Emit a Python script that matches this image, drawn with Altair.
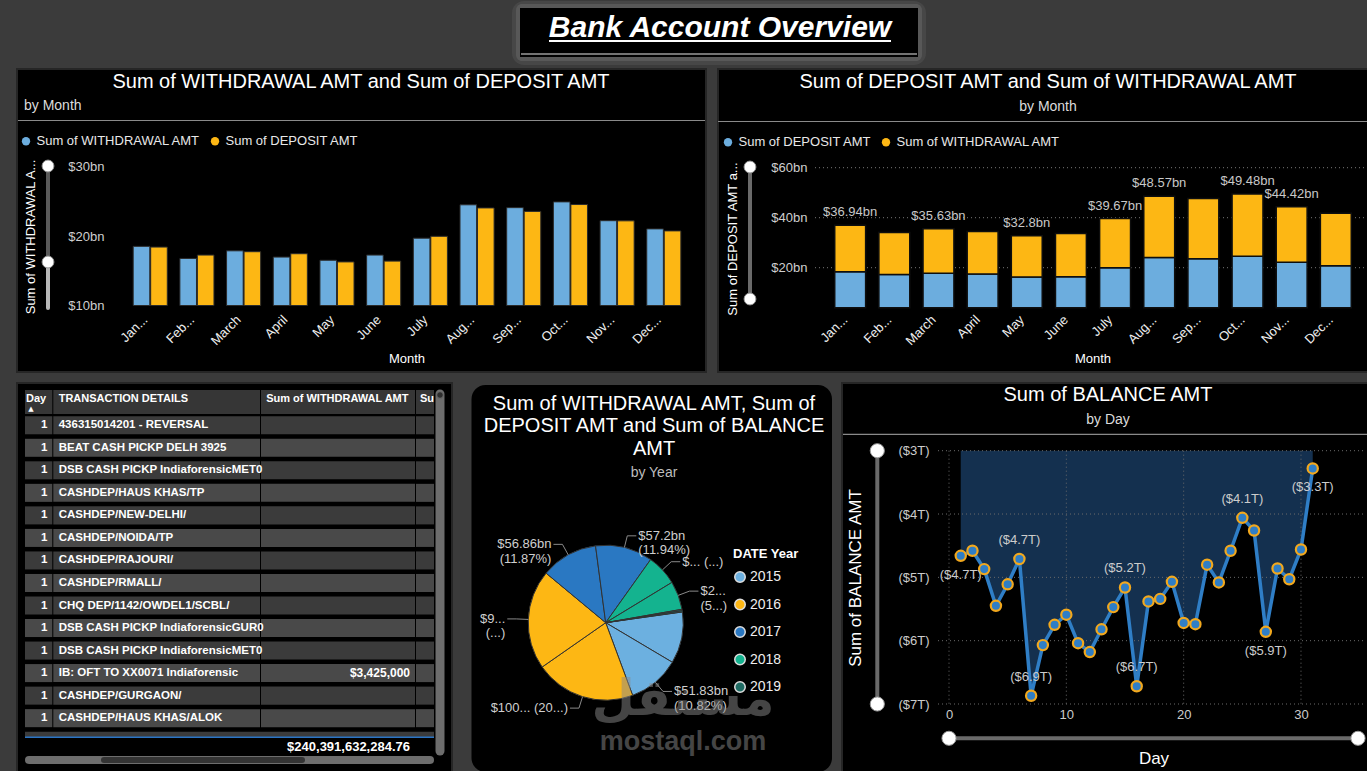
import altair as alt
import pandas as pd

FONT = "Liberation Sans"
BG = "#3b3b3b"
BLUE = "#6cadde"
YELLOW = "#fdb714"

# ---------------- data ----------------
MONTHS = ["January", "February", "March", "April", "May", "June", "July",
          "August", "September", "October", "November", "December"]
WITHDRAWAL_BN = [18.52, 16.78, 17.88, 16.98, 16.52, 17.27, 19.70, 24.51, 24.10, 24.93, 22.22, 21.04]
DEPOSIT_BN = [18.42, 17.27, 17.75, 17.46, 16.28, 16.40, 19.97, 24.06, 23.56, 24.55, 22.20, 20.75]
LABELLED_MONTHS = ["January", "March", "May", "July", "August", "October", "November"]
SERIES_W = "Sum of WITHDRAWAL AMT"
SERIES_D = "Sum of DEPOSIT AMT"

YEARS = ["2015", "2016", "2017", "2018", "2019"]
YEAR_COLORS = ["#6cb0e0", "#fdb714", "#2a78c2", "#14b38f", "#1f6b63"]
PIE_YEAR = ["2015", "2015", "2016", "2016", "2017", "2017", "2018", "2018", "2019", "2019"]
PIE_MEASURE = ["Withdrawal", "Deposit"] * 5
PIE_BN = [51.5, 51.83, 100.4, 99.3, 56.86, 57.2, 30.9, 28.4, 1.4, 1.24]
PIE_LABELS = ["", "$51.83bn\n(10.82%)", "$100... (20...)", "$9...\n(...)",
              "$56.86bn\n(11.87%)", "$57.2bn\n(11.94%)", "$... (...)", "$2...\n(5...)", "", ""]

DAYS = list(range(1, 32))
BALANCE_T = [-4.66, -4.58, -4.87, -5.45, -5.11, -4.71, -6.87, -6.07, -5.75, -5.59,
             -6.04, -6.18, -5.82, -5.47, -5.16, -6.72, -5.38, -5.34, -5.07, -5.72,
             -5.74, -4.80, -5.08, -4.58, -4.06, -4.26, -5.86, -4.86, -5.03, -4.56, -3.28]
ABOVE_DAYS = [6, 7, 15, 16, 25]
BELOW_DAYS = [1, 27, 31]
BAL_TICKS = [-7, -6, -5, -4, -3]
DAY_TICKS = [0, 10, 20, 30]

TABLE_DETAILS = ["436315014201 - REVERSAL", "BEAT CASH PICKP DELH 3925",
                 "DSB CASH PICKP IndiaforensicMET0", "CASHDEP/HAUS KHAS/TP",
                 "CASHDEP/NEW-DELHI/", "CASHDEP/NOIDA/TP", "CASHDEP/RAJOURI/",
                 "CASHDEP/RMALL/", "CHQ DEP/1142/OWDEL1/SCBL/",
                 "DSB CASH PICKP IndiaforensicGUR0", "DSB CASH PICKP IndiaforensicMET0",
                 "IB: OFT TO XX0071 Indiaforensic", "CASHDEP/GURGAON/", "CASHDEP/HAUS KHAS/ALOK"]
TABLE_DAY = [1] * 14
TABLE_WITHDRAWAL = [None] * 11 + [3425000] + [None, None]
TOTAL_WITHDRAWAL = 240391632284.76

TICKS1 = [10, 20, 30]
TICKS2 = [20, 40, 60]

# ---------------- frames ----------------
bars1_df = pd.DataFrame({
    "Month": MONTHS * 2,
    "Series": [SERIES_W] * 12 + [SERIES_D] * 12,
    "Amount": WITHDRAWAL_BN + DEPOSIT_BN,
})
bars2_df = pd.DataFrame({
    "Month": MONTHS * 2,
    "Series": [SERIES_D] * 12 + [SERIES_W] * 12,
    "Amount": DEPOSIT_BN + WITHDRAWAL_BN,
    "Ord": [0] * 12 + [1] * 12,
})
tot_df = pd.DataFrame({"Month": MONTHS,
                       "Total": [round(w + d, 2) for w, d in zip(WITHDRAWAL_BN, DEPOSIT_BN)]})
tot_df = tot_df[tot_df["Month"].isin(LABELLED_MONTHS)].copy()
tot_df["Label"] = ["$" + ("%.2f" % t).rstrip("0").rstrip(".") + "bn" for t in tot_df["Total"]]

pie_df = pd.DataFrame({"Idx": list(range(10)), "Year": PIE_YEAR, "Measure": PIE_MEASURE,
                       "Amount": PIE_BN, "Label": PIE_LABELS})
bal_df = pd.DataFrame({"Day": DAYS, "Balance": BALANCE_T})
table_df = pd.DataFrame({"Row": list(range(14)), "Day": TABLE_DAY,
                         "Details": TABLE_DETAILS, "Withdrawal": TABLE_WITHDRAWAL})
ONE = pd.DataFrame({"k": [0]})


# ---------------- helpers for frame decoration ----------------
def box(x0, x1, y0, y1, fill, **kw):
    return alt.Chart(ONE).mark_rect(fill=fill, **kw).encode(
        x=alt.value(x0), x2=alt.value(x1), y=alt.value(y0), y2=alt.value(y1))


def seg(x0, x1, y0, y1, color, width=1, **kw):
    return alt.Chart(ONE).mark_rule(color=color, strokeWidth=width, **kw).encode(
        x=alt.value(x0), x2=alt.value(x1), y=alt.value(y0), y2=alt.value(y1))


def knob(x, y, size, fill="#ffffff", stroke="#9a9a9a", sw=1):
    return alt.Chart(ONE).mark_point(shape="circle", filled=True, size=size, fill=fill,
                                     stroke=stroke, strokeWidth=sw, opacity=1).encode(
        x=alt.value(x), y=alt.value(y))


def txt(s, x, y, size=13, color="#ffffff", **kw):
    return alt.Chart(ONE).mark_text(text=s, fontSize=size, color=color, **kw).encode(
        x=alt.value(x), y=alt.value(y))


def axis(**kw):
    base = dict(zindex=2, domain=False, ticks=False, grid=False, title=None,
                labelFont=FONT, labelFontSize=13, labelColor="#cfcfcf")
    base.update(kw)
    return alt.Axis(**base)


def legend(**kw):
    base = dict(orient="none", title=None, symbolType="circle", symbolSize=70,
                symbolStrokeWidth=0, labelFontSize=13, labelColor="#e8e8e8",
                labelOffset=4, columnPadding=8, labelLimit=400, padding=0)
    base.update(kw)
    return alt.Legend(**base)


layers = []

# ---------------- page frame ----------------
layers += [
    box(512, 926, 1, 65, "#5e5e5e", cornerRadius=12, opacity=0.35),
    box(516, 922, 4, 61, "#6a6a6a", cornerRadius=6, opacity=0.5),
    box(520, 918, 8, 57, "#000000"),
    seg(521, 917, 54, 54, "#9a9a9a", 1.5),
    txt("Bank Account Overview", 720, 37, size=30, fontWeight="bold", fontStyle="italic",
        baseline="alphabetic"),
    seg(549, 891, 41, 41, "#ffffff", 2),
    box(17, 706, 69, 372, "#000000", stroke="#262626", strokeWidth=2),
    box(718, 1369, 69, 372, "#000000", stroke="#262626", strokeWidth=2),
    box(17, 452, 383, 773, "#000000", stroke="#262626", strokeWidth=2),
    box(471.5, 832, 385, 772, "#000000", cornerRadius=14),
    box(842, 1369, 383, 773, "#000000", stroke="#262626", strokeWidth=2),
]

# ---------------- panel 1: grouped bars ----------------
month_label = "length(datum.label) > 5 ? substring(datum.label, 0, 3) + '...' : datum.label"
x1_scale = alt.Scale(domain=MONTHS, range=[126.9, 687.15], paddingInner=0.27, paddingOuter=0.135)
y1_scale = alt.Scale(domain=[10, 30], range=[305.5, 166.7], nice=False, zero=False)

bars1 = alt.Chart(bars1_df).mark_bar(stroke="#2a2a2a", strokeWidth=1).encode(
    x=alt.X("Month:N", sort=MONTHS, scale=x1_scale,
            axis=axis(orient="bottom", offset=308 - 771, labelAngle=-45, labelExpr=month_label,
                      labelFontSize=13, labelColor="#eeeeee", labelPadding=5, labelOffset=-9)),
    xOffset=alt.XOffset("Series:N", sort=[SERIES_W, SERIES_D], scale=alt.Scale(paddingInner=0.05)),
    y=alt.Y("Amount:Q", scale=y1_scale,
            axis=axis(orient="left", offset=-106, values=TICKS1, labelPadding=2,
                      labelExpr="'$' + datum.value + 'bn'")),
    y2=alt.datum(10),
    color=alt.Color("Series:N", scale=alt.Scale(domain=[SERIES_W, SERIES_D], range=[BLUE, YELLOW]),
                    legend=legend(legendX=19.5, legendY=134.5, direction="horizontal")),
)
layers += [
    txt("Sum of WITHDRAWAL AMT and Sum of DEPOSIT AMT", 361, 82, size=20),
    txt("by Month", 24, 106, size=14, color="#dcdcdc", align="left"),
    seg(18, 705, 120.5, 120.5, "#8a8a8a", 1.2),
    seg(48, 48, 166, 262, "#5a5a5a", 4),
    seg(48, 48, 262, 308, "#b8b8b8", 4, strokeCap="round"),
    knob(48, 166, 140),
    knob(48, 262, 140),
    txt("Sum of WITHDRAWAL A...", 31, 237, size=13, angle=270),
    txt("Month", 407, 359, size=13),
    bars1,
]

# ---------------- panel 2: stacked bars ----------------
x2_scale = alt.Scale(domain=MONTHS, range=[828.1, 1357.9], paddingInner=0.3, paddingOuter=0.15)
y2_scale = alt.Scale(domain=[4, 60], range=[307.7, 167.7], nice=False, zero=False, clamp=True)

grid2 = alt.Chart(pd.DataFrame({"Tick": TICKS2})).mark_rule(
    color="#777777", strokeDash=[1, 3], strokeWidth=1).encode(
    x=alt.value(815), x2=alt.value(1364),
    y=alt.Y("Tick:Q", scale=y2_scale, axis=None))

bars2 = alt.Chart(bars2_df).mark_bar(stroke="#0e0e0e", strokeWidth=1.5).encode(
    x=alt.X("Month:N", sort=MONTHS, scale=x2_scale,
            axis=axis(orient="bottom", offset=308 - 771, labelAngle=-45, labelExpr=month_label,
                      labelFontSize=13, labelColor="#eeeeee", labelPadding=5, labelOffset=-9)),
    y=alt.Y("Amount:Q", stack="zero", scale=y2_scale,
            axis=axis(orient="left", offset=-809, values=TICKS2, labelPadding=2,
                      labelExpr="'$' + datum.value + 'bn'")),
    order=alt.Order("Ord:Q"),
    color=alt.Color("Series:N", scale=alt.Scale(domain=[SERIES_D, SERIES_W], range=[BLUE, YELLOW]),
                    legend=legend(legendX=721.5, legendY=135.5, direction="horizontal")),
)
tot2 = alt.Chart(tot_df).mark_text(dy=-13, fontSize=13, color="#c8c8c8").encode(
    x=alt.X("Month:N", sort=MONTHS, scale=x2_scale, axis=None),
    y=alt.Y("Total:Q", scale=y2_scale, axis=None),
    text="Label:N",
)
layers += [
    txt("Sum of DEPOSIT AMT and Sum of WITHDRAWAL AMT", 1048, 82, size=20),
    txt("by Month", 1048, 107, size=14, color="#dcdcdc"),
    seg(718, 1367, 121.5, 121.5, "#8a8a8a", 1.2),
    seg(750, 750, 167, 299, "#6a6a6a", 4),
    knob(750, 167, 140),
    knob(750, 299, 140),
    txt("Sum of DEPOSIT AMT a...", 733, 239, size=13, angle=270),
    txt("Month", 1093, 359, size=13),
    grid2, bars2, tot2,
]

# ---------------- panel 3: table ----------------
row_y = alt.Y("Row:O", scale=alt.Scale(domain=list(range(15)), range=[414.0, 751.95],
                                       paddingInner=0.2, paddingOuter=0.1), axis=None)
row_fill = alt.condition("datum.Row % 2 == 0", alt.value("#3b3b3b"), alt.value("#494949"))
COLS = [(25, 52.3), (53.3, 260), (261, 415), (416, 434)]

layers += [box(c0, c1, 390, 414, "#363636") for c0, c1 in COLS]
layers += [
    txt("Day", 26, 398.5, size=11, fontWeight="bold", align="left"),
    txt("\u25b2", 31, 408.5, size=7, font="DejaVu Sans"),
    txt("TRANSACTION DETAILS", 58.7, 398.5, size=11, fontWeight="bold", align="left"),
    txt("Sum of WITHDRAWAL AMT", 408.5, 398.5, size=11, fontWeight="bold", align="right"),
    txt("Su", 420, 398.5, size=11, fontWeight="bold", align="left"),
]
for c0, c1 in COLS:
    layers.append(alt.Chart(table_df).mark_rect().encode(
        x=alt.value(c0), x2=alt.value(c1), y=row_y, fill=row_fill))
layers += [
    alt.Chart(table_df).mark_text(align="right", fontSize=11.5, fontWeight="bold", color="#ffffff").encode(
        x=alt.value(47.5), y=row_y, text="Day:Q"),
    alt.Chart(table_df).mark_text(align="left", fontSize=11.5, fontWeight="bold", color="#ffffff").encode(
        x=alt.value(58.7), y=row_y, text="Details:N"),
    alt.Chart(table_df).transform_filter("isValid(datum.Withdrawal)").mark_text(
        align="right", fontSize=12, fontWeight="bold", color="#ffffff").encode(
        x=alt.value(410), y=row_y, text=alt.Text("Withdrawal:Q", format="$,.0f")),
    box(25, 434, 731.7, 737.3, "#3b3b3b"),
    box(18, 434, 737.3, 756, "#000000"),
    seg(25, 434, 737.3, 737.3, "#2b74c4", 1.5),
    txt("${:,.2f}".format(TOTAL_WITHDRAWAL), 410, 747, size=13, fontWeight="bold", align="right"),
    seg(440, 440, 394, 751, "#6d6d6d", 9, strokeCap="round"),
    knob(440, 395, 45, fill="#2e2e2e", stroke="#6d6d6d", sw=1),
    seg(29, 430, 760, 760, "#6d6d6d", 8, strokeCap="round"),
    seg(104, 302, 760, 760, "#333333", 6, strokeCap="round"),
]

# ---------------- panel 4: pie ----------------
CX, CY, R = 605.7, 622.7, 77.5
START = 1.4312
pie = alt.Chart(pie_df).mark_arc(outerRadius=R, stroke="#333333", strokeWidth=1).encode(
    theta=alt.Theta("Amount:Q", stack=True, scale=alt.Scale(range=[START, START + 6.283185307])),
    order=alt.Order("Idx:Q"),
    color=alt.Color("Year:N", scale=alt.Scale(domain=YEARS, range=YEAR_COLORS),
                    legend=legend(legendX=733, legendY=548, title="DATE Year",
                                  titleFontSize=13, titleFontWeight="bold", titleColor="#ffffff",
                                  titlePadding=9, labelFontSize=14, labelColor="#eeeeee",
                                  symbolSize=110, symbolStrokeColor="#dddddd",
                                  symbolStrokeWidth=1.5, rowPadding=9.5, labelOffset=3)),
    x=alt.value(CX), y=alt.value(CY),
)
lead = alt.Chart(pie_df).transform_window(
    cum="sum(Amount)", sort=[alt.SortField("Idx")], frame=[None, 0]
).transform_joinaggregate(total="sum(Amount)").transform_calculate(
    mid=f"{START} + 2*PI*(datum.cum - datum.Amount/2)/datum.total"
).transform_filter("datum.Label != ''").transform_calculate(
    sx=f"{CX} + {R}*sin(datum.mid)", sy=f"{CY} - {R}*cos(datum.mid)",
    ex=f"{CX} + {R + 12}*sin(datum.mid)", ey=f"{CY} - {R + 12}*cos(datum.mid)",
    side="sin(datum.mid) >= 0 ? 1 : -1",
).transform_calculate(hx="datum.ex + datum.side*9")

lead1 = lead.mark_rule(color="#8a8a8a", strokeWidth=1).encode(
    x=alt.X("sx:Q", scale=None, axis=None), y=alt.Y("sy:Q", scale=None, axis=None),
    x2="ex:Q", y2="ey:Q")
lead2 = lead.mark_rule(color="#8a8a8a", strokeWidth=1).encode(
    x=alt.X("ex:Q", scale=None, axis=None), y=alt.Y("ey:Q", scale=None, axis=None),
    x2="hx:Q", y2="ey:Q")
lab_r = lead.transform_filter("datum.side > 0").mark_text(
    align="left", dx=2, fontSize=13, color="#cfcfcf", lineBreak="\n", lineHeight=14.5).encode(
    x=alt.X("hx:Q", scale=None, axis=None), y=alt.Y("ey:Q", scale=None, axis=None), text="Label:N")
lab_l = lead.transform_filter("datum.side < 0").mark_text(
    align="right", dx=-2, fontSize=13, color="#cfcfcf", lineBreak="\n", lineHeight=14.5).encode(
    x=alt.X("hx:Q", scale=None, axis=None), y=alt.Y("ey:Q", scale=None, axis=None), text="Label:N")

layers += [
    txt("Sum of WITHDRAWAL AMT, Sum of", 654, 403.5, size=20),
    txt("DEPOSIT AMT and Sum of BALANCE", 654, 426, size=20),
    txt("AMT", 654, 448.5, size=20),
    txt("by Year", 654, 472.5, size=14, color="#bdbdbd"),
    pie, lead1, lead2, lab_r, lab_l,
]

# ---------------- panel 5: balance by day ----------------
xd_scale = alt.Scale(domain=[0, 35.6], range=[949, 1366.7], nice=False, zero=False)
yb_scale = alt.Scale(domain=[-7, -3], range=[704, 450.7], nice=False, zero=False, clamp=True)

area = alt.Chart(bal_df).mark_area(color="#14304f", opacity=1).encode(
    x=alt.X("Day:Q", scale=xd_scale,
            axis=axis(orient="bottom", offset=704 - 771, values=DAY_TICKS, labelFlush=False,
                      labelPadding=4, labelColor="#cccccc")),
    y=alt.Y("Balance:Q", scale=yb_scale,
            axis=axis(orient="left", offset=-931, values=BAL_TICKS, labelPadding=2,
                      labelColor="#cccccc", labelExpr="'($' + abs(datum.value) + 'T)'")),
    y2=alt.datum(0),
)
hgrid = alt.Chart(pd.DataFrame({"Tick": BAL_TICKS})).mark_rule(
    color="#6a6a6a", strokeDash=[1, 3]).encode(
    x=alt.value(938), x2=alt.value(1366), y=alt.Y("Tick:Q", scale=yb_scale, axis=None))
vgrid = alt.Chart(pd.DataFrame({"Tick": DAY_TICKS})).mark_rule(
    color="#6a6a6a", strokeDash=[1, 3]).encode(
    x=alt.X("Tick:Q", scale=xd_scale, axis=None), y=alt.value(450.7), y2=alt.value(704))
bx = alt.X("Day:Q", scale=xd_scale, axis=None)
by = alt.Y("Balance:Q", scale=yb_scale, axis=None)
bline = alt.Chart(bal_df).mark_line(color="#2f7ec6", strokeWidth=3.5).encode(x=bx, y=by)
bpts = alt.Chart(bal_df).mark_point(shape="circle", filled=True, size=105, fill="#2f7ec6",
                                   stroke="#f2a81d", strokeWidth=2.2, opacity=1).encode(x=bx, y=by)
bal_text = "'($' + format(abs(datum.Balance), '.1f') + 'T)'"
above = alt.Chart(bal_df).transform_filter(
    alt.FieldOneOfPredicate(field="Day", oneOf=ABOVE_DAYS)).transform_calculate(
    Lbl=bal_text).mark_text(dy=-19, fontSize=13, color="#cccccc").encode(x=bx, y=by, text="Lbl:N")
below = alt.Chart(bal_df).transform_filter(
    alt.FieldOneOfPredicate(field="Day", oneOf=BELOW_DAYS)).transform_calculate(
    Lbl=bal_text).mark_text(dy=19, fontSize=13, color="#cccccc").encode(x=bx, y=by, text="Lbl:N")

layers += [
    txt("Sum of BALANCE AMT", 1108, 395, size=20),
    txt("by Day", 1108, 420, size=14, color="#dcdcdc"),
    seg(843, 1367, 434.3, 434.3, "#8a8a8a", 1.2),
    area, hgrid, vgrid, bline, bpts, above, below,
    seg(877.3, 877.3, 450.7, 704, "#6a6a6a", 4),
    knob(877.3, 450.7, 200),
    knob(877.3, 704, 200),
    seg(949, 1358, 738.3, 738.3, "#6a6a6a", 4),
    knob(949, 738.3, 200),
    knob(1358, 738.3, 200),
    txt("Sum of BALANCE AMT", 856.3, 578, size=17, angle=270),
    txt("Day", 1154, 759, size=17),
]

# ---------------- watermark ----------------
layers += [
    txt("\u0645\u0633\u062a\u0642\u0644", 683, 700, size=50, color="#8a8a8a", opacity=0.5,
        fontWeight="bold", font="DejaVu Sans"),
    txt("mostaql.com", 683, 742, size=27, color="#8a8a8a", opacity=0.5, fontWeight="bold"),
]

chart = alt.layer(*layers).resolve_scale(
    x="independent", y="independent", color="independent", theta="independent"
).properties(
    width=1367, height=771, padding=0, background=BG,
    autosize=alt.AutoSizeParams(type="none"),
).configure(font=FONT).configure_view(stroke=None).configure_axis(
    labelFont=FONT, labelFontSize=13, labelColor="#cfcfcf", domain=False, ticks=False,
    grid=False, labelPadding=3,
).configure_legend(labelFont=FONT, titleFont=FONT, padding=0)

chart.save("out.html", embed_options={"renderer": "svg", "actions": False})
